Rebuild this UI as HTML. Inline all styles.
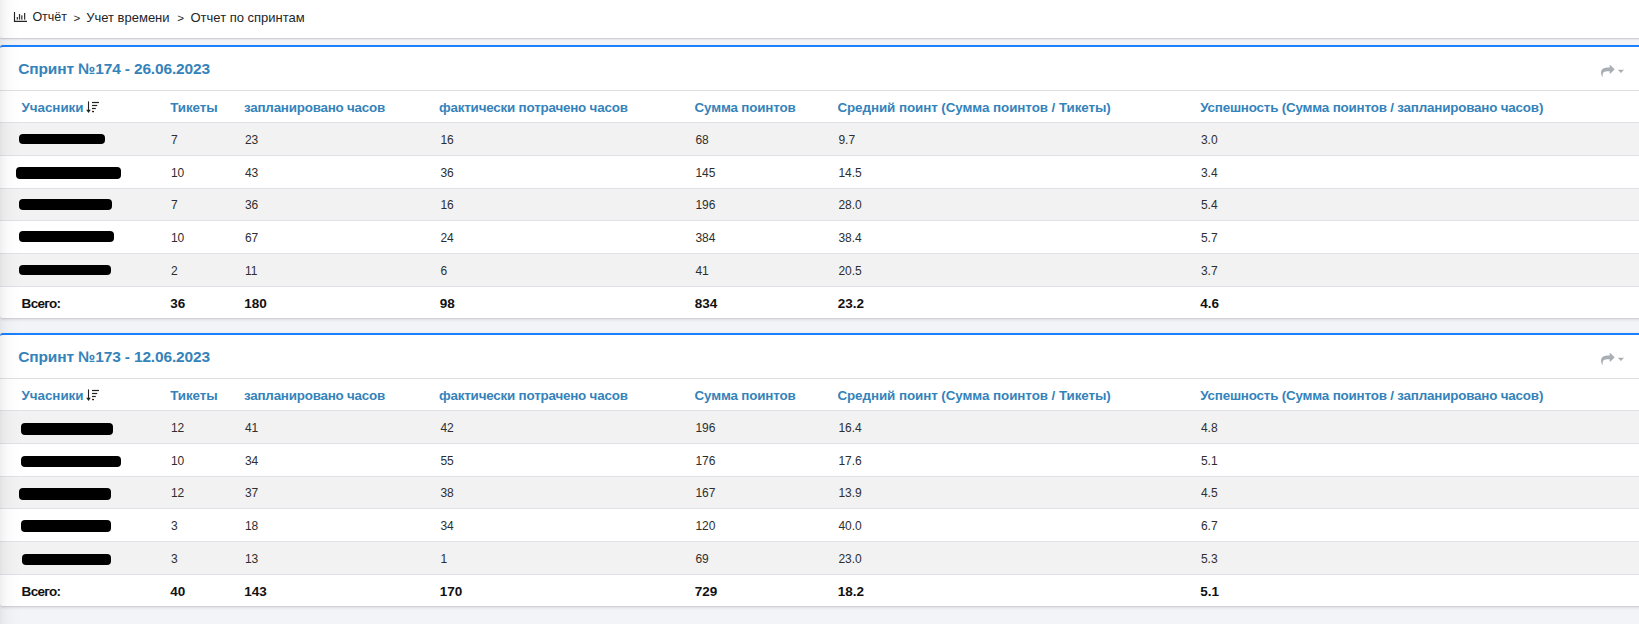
<!DOCTYPE html>
<html><head><meta charset="utf-8"><title>Отчет по спринтам</title>
<style>
*{margin:0;padding:0;box-sizing:border-box}
html,body{width:1639px;height:624px;overflow:hidden}
body{background:#f3f4f8;font-family:"Liberation Sans",sans-serif;position:relative;color:#212529}
.crumb{position:absolute;left:0;top:0;width:1646px;height:39px;background:#fff;border-bottom:1px solid #d0d0d2;border-radius:0 0 2px 2px;box-shadow:0 1px 2px rgba(0,0,0,.06)}
.crumb span{position:absolute;top:10.6px;font-size:12.8px;line-height:13px;color:#212529;white-space:nowrap}
.card{position:absolute;left:0;width:1646px;height:274px;background:#fff;border-top:2px solid #1a80ff;border-bottom:1px solid #d2d2d4;box-shadow:0 1px 3px rgba(0,0,0,.1);border-radius:3px}
.t{position:absolute;white-space:nowrap;line-height:1}
.title{font-size:15.5px;letter-spacing:-0.15px;font-weight:bold;color:#3583ba}
.hd{font-size:13.4px;letter-spacing:-0.1px;font-weight:bold;color:#3583ba}
.dt{font-size:12px;color:#2e2e30}
.tot{font-size:13.5px;font-weight:bold;color:#111}
.ln{position:absolute;left:0;width:1639px;height:1px;background:#dee2e6}
.stripe{position:absolute;left:0;width:1639px;background:#f2f2f2}
.blob{position:absolute;background:#000;border-radius:4px}
.lshadow{position:absolute;left:0;top:0;width:24px;height:624px;background:linear-gradient(to right,rgba(0,0,0,.065),rgba(0,0,0,.035) 4px,rgba(0,0,0,.015) 9px,rgba(0,0,0,0) 20px);pointer-events:none}
</style></head><body>
<div class="crumb">
<svg style="position:absolute;left:13px;top:11px" width="16" height="12" viewBox="0 0 16 12"><path d="M1.5 1V10.4H14" stroke="#222" stroke-width="1.15" fill="none"/><rect x="3.7" y="6" width="1.25" height="2.6" fill="#333"/><rect x="5.9" y="3" width="1.25" height="5.6" fill="#333"/><rect x="8.2" y="4.3" width="1.25" height="4.3" fill="#333"/><rect x="11" y="2" width="1.25" height="6.6" fill="#333"/></svg>
<span style="left:32.4px;font-size:12.5px">Отчёт</span>
<span style="left:73.6px;font-size:11.6px;top:10.5px">&gt;</span>
<span style="left:86.2px;font-size:13px">Учет времени</span>
<span style="left:177.2px;font-size:11.6px;top:10.5px">&gt;</span>
<span style="left:190.5px;font-size:13px">Отчет по спринтам</span>
</div>

<div class="card" style="top:45px">
<div class="t title" style="left:18.3px;top:13.88px">Спринт №174 - 26.06.2023</div>
<svg style="position:absolute;left:1601.2px;top:18.1px" width="24" height="13" viewBox="0 0 24 13"><path transform="scale(0.00753) translate(0,-64)" d="M1792 640q0 26-19 45l-512 512q-19 19-45 19t-45-19-19-45v-256h-224q-98 0-175.5 6t-154 21.5-133 42.5-105.5 69.5-80 101-48.5 138.5-17.5 181q0 55 5 123 0 6 2.5 23.5t2.5 26.5q0 15-8.5 25t-23.5 10q-16 0-28-17-7-9-13-22t-13.5-30-10.5-24q-127-285-127-451 0-199 53-333 162-403 875-403h224v-256q0-26 19-45t45-19 45 19l512 512q19 19 19 45z" fill="#a9aeb5"/><path d="M16.8 4.8H23L19.9 7.9Z" fill="#a9aeb5"/></svg>
<div class="ln" style="top:43px;background:#dfdfdf"></div>
<div class="stripe" style="top:76px;height:32px"></div>
<div class="stripe" style="top:142px;height:31px"></div>
<div class="stripe" style="top:207px;height:32px"></div>
<div class="ln" style="top:75px"></div>
<div class="ln" style="top:108px"></div>
<div class="ln" style="top:141px"></div>
<div class="ln" style="top:173px"></div>
<div class="ln" style="top:206px"></div>
<div class="ln" style="top:239px"></div>
<div class="t hd" style="left:21.6px;letter-spacing:-0.06px;top:53.66px">Учасники</div>
<div class="t hd" style="left:170.2px;letter-spacing:-0.06px;top:53.66px">Тикеты</div>
<div class="t hd" style="left:244px;letter-spacing:-0.22px;top:53.66px">запланировано часов</div>
<div class="t hd" style="left:439px;letter-spacing:-0.2px;top:53.66px">фактически потрачено часов</div>
<div class="t hd" style="left:694.6px;letter-spacing:-0.175px;top:53.66px">Сумма поинтов</div>
<div class="t hd" style="left:837.4px;letter-spacing:-0.07px;top:53.66px">Средний поинт (Сумма поинтов / Тикеты)</div>
<div class="t hd" style="left:1200.2px;letter-spacing:-0.19px;top:53.66px">Успешность (Сумма поинтов / запланировано часов)</div>
<svg style="position:absolute;left:85px;top:54px" width="15" height="13" viewBox="0 0 15 13"><path d="M3.5 0.4V10" stroke="#222" stroke-width="1.1"/><path d="M1.2 8.8L3.5 12L5.8 8.8Z" fill="#222"/><rect x="7" y="0.9" width="7" height="1.2" fill="#222"/><rect x="7" y="3.9" width="5.2" height="1.2" fill="#222"/><rect x="7" y="6.9" width="3.8" height="1.2" fill="#222"/><rect x="7" y="9.9" width="2" height="1.3" fill="#222"/></svg>
<div class="t dt" style="left:170.9px;top:86.84px">7</div>
<div class="t dt" style="left:244.9px;top:86.84px">23</div>
<div class="t dt" style="left:440.4px;top:86.84px">16</div>
<div class="t dt" style="left:695.4px;top:86.84px">68</div>
<div class="t dt" style="left:838.4px;top:86.84px">9.7</div>
<div class="t dt" style="left:1200.9px;top:86.84px">3.0</div>
<div class="t dt" style="left:170.9px;top:119.84px">10</div>
<div class="t dt" style="left:244.9px;top:119.84px">43</div>
<div class="t dt" style="left:440.4px;top:119.84px">36</div>
<div class="t dt" style="left:695.4px;top:119.84px">145</div>
<div class="t dt" style="left:838.4px;top:119.84px">14.5</div>
<div class="t dt" style="left:1200.9px;top:119.84px">3.4</div>
<div class="t dt" style="left:170.9px;top:151.84px">7</div>
<div class="t dt" style="left:244.9px;top:151.84px">36</div>
<div class="t dt" style="left:440.4px;top:151.84px">16</div>
<div class="t dt" style="left:695.4px;top:151.84px">196</div>
<div class="t dt" style="left:838.4px;top:151.84px">28.0</div>
<div class="t dt" style="left:1200.9px;top:151.84px">5.4</div>
<div class="t dt" style="left:170.9px;top:184.84px">10</div>
<div class="t dt" style="left:244.9px;top:184.84px">67</div>
<div class="t dt" style="left:440.4px;top:184.84px">24</div>
<div class="t dt" style="left:695.4px;top:184.84px">384</div>
<div class="t dt" style="left:838.4px;top:184.84px">38.4</div>
<div class="t dt" style="left:1200.9px;top:184.84px">5.7</div>
<div class="t dt" style="left:170.9px;top:217.84px">2</div>
<div class="t dt" style="left:244.9px;top:217.84px">11</div>
<div class="t dt" style="left:440.4px;top:217.84px">6</div>
<div class="t dt" style="left:695.4px;top:217.84px">41</div>
<div class="t dt" style="left:838.4px;top:217.84px">20.5</div>
<div class="t dt" style="left:1200.9px;top:217.84px">3.7</div>
<div class="t tot" style="left:21.6px;top:249.57px;letter-spacing:-0.7px">Всего:</div>
<div class="t tot" style="left:170.3px;top:249.57px">36</div>
<div class="t tot" style="left:244.3px;top:249.57px">180</div>
<div class="t tot" style="left:439.8px;top:249.57px">98</div>
<div class="t tot" style="left:694.8px;top:249.57px">834</div>
<div class="t tot" style="left:837.8px;top:249.57px">23.2</div>
<div class="t tot" style="left:1200.3px;top:249.57px">4.6</div>
<div class="blob" style="left:18.5px;top:87px;width:86.5px;height:9.5px"></div>
<div class="blob" style="left:16px;top:120.3px;width:105px;height:11.5px"></div>
<div class="blob" style="left:18.5px;top:152.4px;width:93.0px;height:10.199999999999989px"></div>
<div class="blob" style="left:18.5px;top:183.9px;width:95.5px;height:11.5px"></div>
<div class="blob" style="left:18.5px;top:217.7px;width:92.3px;height:10.300000000000011px"></div>
</div>
<div class="card" style="top:333px">
<div class="t title" style="left:18.3px;top:13.88px">Спринт №173 - 12.06.2023</div>
<svg style="position:absolute;left:1601.2px;top:18.1px" width="24" height="13" viewBox="0 0 24 13"><path transform="scale(0.00753) translate(0,-64)" d="M1792 640q0 26-19 45l-512 512q-19 19-45 19t-45-19-19-45v-256h-224q-98 0-175.5 6t-154 21.5-133 42.5-105.5 69.5-80 101-48.5 138.5-17.5 181q0 55 5 123 0 6 2.5 23.5t2.5 26.5q0 15-8.5 25t-23.5 10q-16 0-28-17-7-9-13-22t-13.5-30-10.5-24q-127-285-127-451 0-199 53-333 162-403 875-403h224v-256q0-26 19-45t45-19 45 19l512 512q19 19 19 45z" fill="#a9aeb5"/><path d="M16.8 4.8H23L19.9 7.9Z" fill="#a9aeb5"/></svg>
<div class="ln" style="top:43px;background:#dfdfdf"></div>
<div class="stripe" style="top:76px;height:32px"></div>
<div class="stripe" style="top:142px;height:31px"></div>
<div class="stripe" style="top:207px;height:32px"></div>
<div class="ln" style="top:75px"></div>
<div class="ln" style="top:108px"></div>
<div class="ln" style="top:141px"></div>
<div class="ln" style="top:173px"></div>
<div class="ln" style="top:206px"></div>
<div class="ln" style="top:239px"></div>
<div class="t hd" style="left:21.6px;letter-spacing:-0.06px;top:53.66px">Учасники</div>
<div class="t hd" style="left:170.2px;letter-spacing:-0.06px;top:53.66px">Тикеты</div>
<div class="t hd" style="left:244px;letter-spacing:-0.22px;top:53.66px">запланировано часов</div>
<div class="t hd" style="left:439px;letter-spacing:-0.2px;top:53.66px">фактически потрачено часов</div>
<div class="t hd" style="left:694.6px;letter-spacing:-0.175px;top:53.66px">Сумма поинтов</div>
<div class="t hd" style="left:837.4px;letter-spacing:-0.07px;top:53.66px">Средний поинт (Сумма поинтов / Тикеты)</div>
<div class="t hd" style="left:1200.2px;letter-spacing:-0.19px;top:53.66px">Успешность (Сумма поинтов / запланировано часов)</div>
<svg style="position:absolute;left:85px;top:54px" width="15" height="13" viewBox="0 0 15 13"><path d="M3.5 0.4V10" stroke="#222" stroke-width="1.1"/><path d="M1.2 8.8L3.5 12L5.8 8.8Z" fill="#222"/><rect x="7" y="0.9" width="7" height="1.2" fill="#222"/><rect x="7" y="3.9" width="5.2" height="1.2" fill="#222"/><rect x="7" y="6.9" width="3.8" height="1.2" fill="#222"/><rect x="7" y="9.9" width="2" height="1.3" fill="#222"/></svg>
<div class="t dt" style="left:170.9px;top:86.84px">12</div>
<div class="t dt" style="left:244.9px;top:86.84px">41</div>
<div class="t dt" style="left:440.4px;top:86.84px">42</div>
<div class="t dt" style="left:695.4px;top:86.84px">196</div>
<div class="t dt" style="left:838.4px;top:86.84px">16.4</div>
<div class="t dt" style="left:1200.9px;top:86.84px">4.8</div>
<div class="t dt" style="left:170.9px;top:119.84px">10</div>
<div class="t dt" style="left:244.9px;top:119.84px">34</div>
<div class="t dt" style="left:440.4px;top:119.84px">55</div>
<div class="t dt" style="left:695.4px;top:119.84px">176</div>
<div class="t dt" style="left:838.4px;top:119.84px">17.6</div>
<div class="t dt" style="left:1200.9px;top:119.84px">5.1</div>
<div class="t dt" style="left:170.9px;top:151.84px">12</div>
<div class="t dt" style="left:244.9px;top:151.84px">37</div>
<div class="t dt" style="left:440.4px;top:151.84px">38</div>
<div class="t dt" style="left:695.4px;top:151.84px">167</div>
<div class="t dt" style="left:838.4px;top:151.84px">13.9</div>
<div class="t dt" style="left:1200.9px;top:151.84px">4.5</div>
<div class="t dt" style="left:170.9px;top:184.84px">3</div>
<div class="t dt" style="left:244.9px;top:184.84px">18</div>
<div class="t dt" style="left:440.4px;top:184.84px">34</div>
<div class="t dt" style="left:695.4px;top:184.84px">120</div>
<div class="t dt" style="left:838.4px;top:184.84px">40.0</div>
<div class="t dt" style="left:1200.9px;top:184.84px">6.7</div>
<div class="t dt" style="left:170.9px;top:217.84px">3</div>
<div class="t dt" style="left:244.9px;top:217.84px">13</div>
<div class="t dt" style="left:440.4px;top:217.84px">1</div>
<div class="t dt" style="left:695.4px;top:217.84px">69</div>
<div class="t dt" style="left:838.4px;top:217.84px">23.0</div>
<div class="t dt" style="left:1200.9px;top:217.84px">5.3</div>
<div class="t tot" style="left:21.6px;top:249.57px;letter-spacing:-0.7px">Всего:</div>
<div class="t tot" style="left:170.3px;top:249.57px">40</div>
<div class="t tot" style="left:244.3px;top:249.57px">143</div>
<div class="t tot" style="left:439.8px;top:249.57px">170</div>
<div class="t tot" style="left:694.8px;top:249.57px">729</div>
<div class="t tot" style="left:837.8px;top:249.57px">18.2</div>
<div class="t tot" style="left:1200.3px;top:249.57px">5.1</div>
<div class="blob" style="left:20.5px;top:87.7px;width:92.3px;height:12.100000000000023px"></div>
<div class="blob" style="left:20.5px;top:121px;width:100.0px;height:11.399999999999977px"></div>
<div class="blob" style="left:19.2px;top:152.9px;width:91.6px;height:11.800000000000011px"></div>
<div class="blob" style="left:21.3px;top:185.2px;width:90.2px;height:12.0px"></div>
<div class="blob" style="left:22.3px;top:218.5px;width:89.2px;height:11.5px"></div>
</div>
<div class="lshadow"></div>
</body></html>
